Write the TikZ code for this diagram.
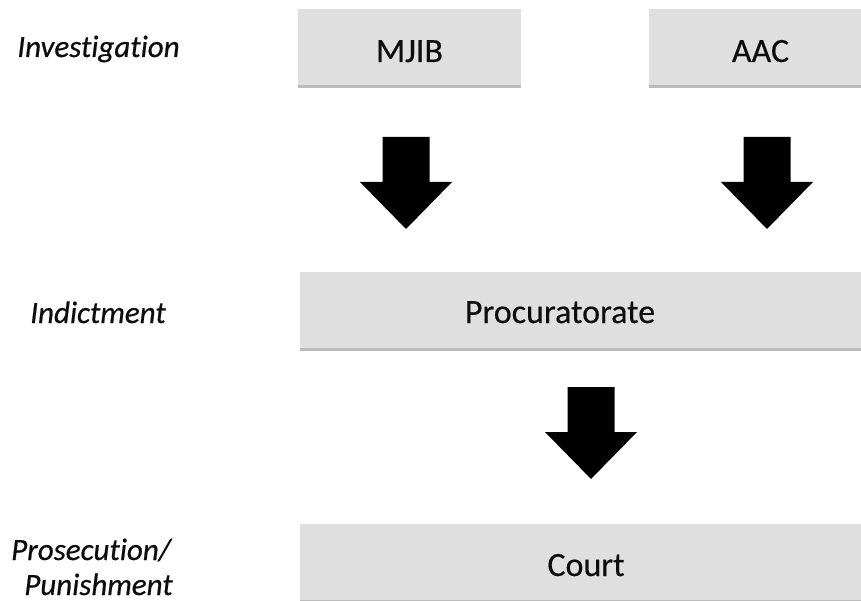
\documentclass[tikz,border=0pt]{standalone}
\usepackage{fontspec}
\setmainfont{Carlito}[Ligatures=NoCommon, FakeBold=0.4, ItalicFeatures={FakeBold=0.6}]
\usetikzlibrary{shadows}
\definecolor{boxgray}{HTML}{DFDFDF}
\definecolor{shadowgray}{HTML}{BBBBBB}
\definecolor{inkc}{HTML}{0D0D0D}
\tikzset{
  stagebox/.style={fill=boxgray, draw=none, inner sep=0pt, minimum height=76bp,
    general shadow={shadow xshift=0bp, shadow yshift=-3bp, fill=shadowgray},
    text=inkc, font=\fontsize{34bp}{40bp}\selectfont, text height=29bp, text depth=0bp},
  boxtext/.style={inner sep=0pt, anchor=base, text=inkc, font=\fontsize{34bp}{40bp}\selectfont},
  stagelabel/.style={inner sep=0pt, anchor=base, text=inkc, font=\fontsize{31bp}{36bp}\selectfont\itshape},
  blockarrow/.pic={\fill[black] (0,0) -- (-46,-47) -- (-23.5,-47) -- (-23.5,-92) -- (23.5,-92) -- (23.5,-47) -- (46,-47) -- cycle;}
}
\begin{document}
\begin{tikzpicture}[x=1bp,y=-1bp]
\useasboundingbox (0,0) rectangle (861,601);
\clip (0,0) rectangle (861,601);
% boxes
\node[stagebox, minimum width=223bp] (mjib) at (409.5,47.5) {MJIB};
\node[stagebox, minimum width=223bp] (aac) at (760.5,47.5) {AAC};
\node[stagebox, minimum width=572bp] (proc) at (586,309.5) {};
\node[boxtext] (proctext) at (560,323) {Procuratorate};
\node[stagebox, minimum width=572bp] (court) at (586,561.5) {Court};
% labels
\node[stagelabel] (inv) at (98.5,57) {Investigation};
\node[stagelabel] (ind) at (98,323) {Indictment};
\node[stagelabel] (pros) at (91,560) {Prosecution/};
\node[stagelabel] (pun) at (98.5,595) {Punishment};
% block arrows
\coordinate (a1) at (406,229);
\coordinate (a2) at (767,229);
\coordinate (a3) at (591,479);
\pic at (a1) {blockarrow};
\pic at (a2) {blockarrow};
\pic at (a3) {blockarrow};
\end{tikzpicture}
\end{document}
